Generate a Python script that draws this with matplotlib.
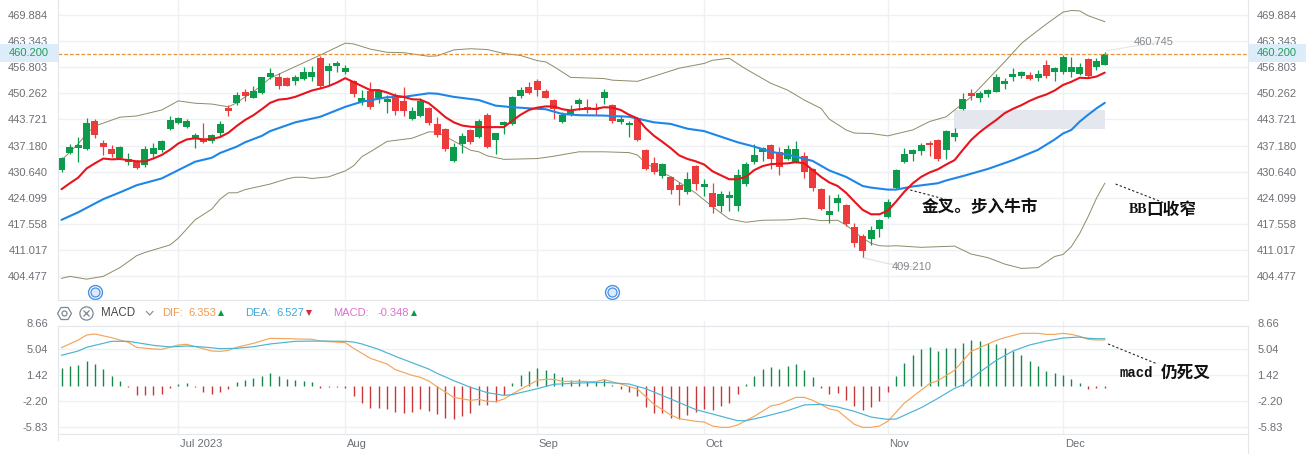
import matplotlib
matplotlib.use("Agg")
import matplotlib.pyplot as plt
from matplotlib.lines import Line2D
from matplotlib.patches import Rectangle, Circle
from matplotlib.transforms import blended_transform_factory

plt.rcParams['font.family'] = ['Liberation Sans', 'DejaVu Sans']

# ---------- data ----------
opens = [431.0,435.3,436.6,436.3,443.3,437.8,436.2,434.1,433.0,433.0,432.3,435.1,436.1,441.3,442.8,441.8,438.9,438.7,438.2,440.3,
         446.5,447.9,450.6,449.1,450.4,454.3,454.3,454.1,453.4,453.9,454.4,459.2,456.0,457.2,455.7,453.3,448.1,451.0,449.0,448.2,
         449.7,448.3,443.9,444.6,446.6,442.6,441.3,433.3,437.6,441.2,439.3,444.8,438.6,442.3,442.6,449.6,451.8,453.4,450.8,448.6,
         443.1,444.9,447.6,446.9,446.7,449.1,447.4,443.2,442.3,444.2,436.1,432.7,429.4,429.2,427.2,425.5,432.0,426.8,425.2,422.0,
         424.0,422.0,427.5,433.0,435.6,437.3,435.5,433.7,432.9,434.5,431.4,426.3,419.7,422.8,422.2,416.6,414.4,413.7,416.3,419.1,
         426.4,433.0,435.1,435.8,437.8,438.6,436.1,439.3,446.4,450.4,449.1,450.1,450.6,452.6,454.4,454.6,454.8,454.2,457.3,455.7,
         455.7,455.7,455.2,458.9,456.9,457.5]
highs = [434.2,437.5,439.3,444.1,443.8,438.6,437.3,437.0,435.2,433.5,437.0,437.7,438.5,444.5,444.3,443.9,440.2,442.8,440.0,443.3,
         447.3,450.5,451.5,452.1,454.5,456.6,455.3,454.3,454.8,456.8,457.2,459.7,457.8,458.4,457.3,453.6,451.1,453.1,451.1,449.9,
         450.3,451.8,446.8,449.0,446.9,444.3,441.5,437.7,440.2,441.4,443.8,445.3,440.4,443.4,449.5,451.8,453.1,453.8,451.3,448.8,
         445.7,447.4,449.0,448.9,447.8,451.4,447.5,444.9,443.3,444.4,436.2,434.2,432.7,429.4,428.0,430.4,432.2,428.8,427.8,425.7,
         425.7,431.2,433.0,437.5,436.9,437.5,436.7,437.3,438.3,435.6,431.6,426.4,424.7,424.9,422.4,417.6,414.9,417.0,418.8,423.7,
         431.2,436.5,436.3,437.7,438.3,438.7,441.1,441.5,450.3,451.5,450.8,451.5,455.2,454.2,456.6,455.9,455.6,456.1,458.6,457.0,
         459.8,459.4,457.8,459.1,459.1,460.745]
lows = [430.4,435.0,433.1,436.1,439.1,434.8,434.4,434.0,432.4,431.4,431.9,434.4,435.5,441.1,442.7,441.7,436.6,437.9,437.7,439.6,
        444.7,447.4,448.4,449.0,450.1,453.8,451.5,452.1,452.5,453.7,453.4,451.7,452.5,455.7,455.2,449.4,447.4,446.4,447.9,445.4,
        444.9,444.6,443.5,444.4,442.3,439.4,435.9,433.0,435.4,437.6,439.1,436.6,435.0,440.1,442.4,449.0,450.2,449.7,449.0,443.8,
        442.8,444.7,446.2,445.3,444.9,447.6,442.9,442.6,439.4,438.4,431.1,430.0,428.9,425.0,422.2,425.1,426.0,424.5,420.3,420.5,
        420.8,420.8,427.1,432.5,433.2,431.2,429.8,433.5,432.7,429.1,425.8,421.1,417.8,420.6,417.0,411.7,409.21,412.3,414.3,419.0,
        426.2,432.9,433.4,434.8,434.5,433.3,433.8,438.4,446.2,448.6,448.2,449.4,450.5,451.4,453.4,454.1,453.7,453.5,454.2,453.4,
        455.2,454.4,454.8,454.2,456.2,457.3]
closes = [434.0,436.7,437.3,442.8,439.7,436.8,435.1,436.8,433.7,431.6,436.3,436.5,438.3,443.6,444.1,443.3,439.7,438.1,439.7,442.6,
          445.9,449.8,449.5,451.0,454.3,455.4,452.1,452.1,454.3,455.6,455.6,452.2,457.1,457.9,456.7,450.1,449.1,446.9,450.8,448.9,
          445.9,445.9,445.8,448.3,442.9,439.8,436.4,436.8,439.6,438.0,443.3,436.8,440.2,443.2,449.4,451.1,450.4,451.1,449.2,446.4,
          444.9,445.9,448.6,446.0,446.0,450.5,443.4,443.8,442.8,438.6,431.3,430.6,432.5,426.1,426.1,428.7,427.5,427.5,421.8,425.0,
          424.8,429.7,432.5,434.8,436.6,433.9,431.7,436.3,436.3,430.4,426.5,421.2,420.7,424.0,417.5,412.8,410.8,415.9,418.5,423.0,
          431.0,435.1,436.1,437.3,437.2,433.7,440.8,440.2,448.8,449.5,450.4,451.1,454.3,453.3,455.2,455.6,454.0,455.2,454.6,456.7,
          459.4,456.8,456.8,454.6,458.3,460.2]

ma_fast = [426.2,427.7,429.1,431.4,432.7,433.9,433.7,433.8,433.5,433.2,433.2,433.9,434.8,436.1,437.7,438.7,439.0,438.7,438.8,439.3,
           440.4,442.1,443.6,444.8,446.3,447.9,448.7,448.9,449.4,450.2,451.0,451.5,452.1,453.0,454.1,453.1,452.1,451.1,451.1,450.5,
           449.7,449.4,448.8,448.7,447.8,446.1,444.3,443.0,442.2,441.9,441.8,441.8,441.8,441.8,443.4,444.9,446.1,446.7,447.0,447.0,
           446.3,446.0,446.3,446.4,446.4,446.8,446.7,446.1,444.9,444.0,441.5,439.6,438.1,436.5,434.7,433.8,433.2,432.4,430.7,429.7,
           428.7,428.7,429.3,431.0,432.0,432.5,432.6,432.7,433.0,432.7,431.0,429.3,427.9,427.0,425.3,423.1,421.0,419.9,419.9,420.8,
           423.1,425.6,427.7,429.3,430.4,431.2,432.4,433.5,436.1,438.6,440.5,442.1,443.6,445.3,446.4,447.3,448.4,449.3,450.0,451.0,
           452.4,453.2,454.2,454.1,454.5,455.5]

ma_slow_idx = [0,2,4,5,7,9,12,14,16,18,19,21,22,24,25,28,31,34,36,39,41,44,45,47,50,52,54,57,58,60,62,65,68,71,73,75,77,79,81,83,
               85,87,90,92,94,96,97,99,100,102,105,106,108,111,114,117,119,120,121,122,123,124,125]
ma_slow = [418.5,420.4,422.6,423.7,425.4,427.2,428.9,431.0,433.1,434.1,435.3,436.9,438.0,439.6,440.8,443.0,444.4,446.9,448.2,449.3,
           449.4,450.3,450.2,449.4,448.6,447.2,446.8,446.4,446.3,445.1,444.8,444.7,444.4,443.0,442.6,441.4,440.8,439.4,438.0,436.9,
           435.6,434.9,433.3,430.9,429.3,427.0,426.6,426.1,426.1,426.9,427.7,428.4,429.5,431.3,433.5,436.1,438.7,440.2,441.1,443.2,
           444.9,446.5,447.9]

bb_up_idx = [0,1,2,3,4,5,7,9,12,14,16,18,20,21,22,23,25,28,31,34,35,37,39,41,44,45,47,49,51,53,55,57,58,59,61,65,66,69,71,74,77,78,
             80,82,85,87,89,91,92,94,95,97,99,102,104,106,107,109,111,113,115,116,118,120,121,122,123,125]
bb_up = [433.5,435.5,437.6,440.1,442.1,442.8,444.3,444.6,446.1,448.4,447.8,447.6,446.9,447.9,449.4,450.7,454.1,457.0,459.9,462.9,
         462.7,461.4,460.6,460.5,459.6,459.7,461.2,461.5,461.3,460.3,459.8,458.5,458.2,457.0,454.3,454.0,453.6,453.3,454.6,456.6,457.8,458.6,
         459.1,456.4,452.8,451.1,448.6,446.5,443.8,441.1,440.3,440.2,439.6,441.1,443.2,444.4,446.1,449.4,453.8,458.2,462.8,464.5,467.7,470.7,471.1,471.0,469.8,468.3]

bb_lo_idx = [0,1,3,5,7,9,10,13,14,16,18,19,20,21,22,25,27,28,29,30,32,34,35,36,37,39,42,43,44,45,49,50,51,53,57,59,62,65,68,69,70,73,76,78,
             80,82,84,87,89,91,93,94,96,97,98,99,100,103,107,109,111,113,115,117,119,120,121,122,123,124,125]
bb_lo = [403.8,404.3,403.6,404.3,406.5,409.5,410.3,412.2,413.9,418.5,421.2,423.7,425.3,425.3,426.1,427.5,428.8,429.2,429.2,428.9,429.3,430.8,432.1,434.4,435.6,438.2,439.0,439.8,440.6,440.6,
         436.0,435.6,434.6,433.7,433.9,434.5,435.6,435.6,435.4,434.8,432.7,429.3,425.2,421.8,418.7,417.9,418.4,418.5,418.9,418.3,418.4,417.2,413.9,412.6,412.0,411.9,412.0,411.6,411.9,409.9,409.0,407.4,406.3,406.5,409.3,409.8,411.8,415.1,419.3,423.9,427.7]

macd_hist = [2.46,2.74,2.88,3.39,3.02,2.28,1.35,0.65,-0.23,-1.30,-1.30,-1.30,-1.16,-0.28,0.23,0.37,-0.23,-0.84,-1.16,-0.88,
             -0.51,0.46,0.79,1.02,1.39,1.77,1.35,0.93,0.74,0.65,0.51,-0.28,-0.19,-0.19,-0.33,-1.44,-2.42,-3.11,-3.11,-3.25,
             -3.67,-3.81,-3.67,-3.25,-3.53,-3.95,-4.46,-4.60,-4.23,-3.81,-2.69,-2.69,-2.23,-1.30,0.37,1.44,2.00,2.42,2.23,1.72,
             1.16,0.74,0.88,0.60,0.51,0.93,0.05,-0.46,-0.88,-1.53,-2.97,-3.81,-3.81,-4.46,-4.65,-4.09,-3.67,-3.30,-3.39,-2.83,
             -2.46,-1.21,0.23,1.35,2.28,2.60,2.28,2.74,2.97,2.18,1.16,-0.28,-1.16,-1.11,-2.00,-2.83,-3.48,-2.97,-2.18,-0.84,
             1.35,3.11,4.23,5.06,5.34,4.78,5.20,5.20,5.90,6.32,6.18,5.90,5.76,5.20,4.78,4.23,3.39,2.69,2.00,1.72,
             1.49,0.88,0.33,-0.51,-0.40,-0.348]

dif_idx = [0,2,3,4,6,8,9,11,12,14,15,18,19,20,21,23,25,27,30,31,34,35,37,39,40,42,43,44,45,47,49,50,51,52,53,55,57,58,59,60,62,64,65,67,69,71,73,74,76,77,
           78,79,80,81,83,85,86,88,89,90,92,93,95,96,97,98,99,101,104,105,107,109,112,113,115,117,118,119,120,121,122,123,124,125]
dif = [5.28,6.34,7.04,7.18,6.67,6.02,5.32,5.09,5.04,5.65,5.74,4.81,4.76,4.90,5.32,5.88,6.58,6.53,6.44,6.20,5.97,5.18,3.79,3.00,2.21,1.42,1.14,0.63,-0.16,
       -1.65,-2.06,-1.93,-2.20,-2.25,-1.88,-0.53,0.72,0.86,0.86,0.58,0.58,0.54,0.82,0.21,-0.48,-2.62,-4.11,-4.62,-4.99,-5.08,
       -5.64,-5.83,-5.83,-5.50,-4.29,-2.85,-2.62,-1.65,-1.65,-2.06,-3.27,-3.50,-5.41,-5.83,-5.83,-5.64,-4.99,-2.44,0.26,0.68,2.12,4.76,6.30,6.67,7.27,7.27,7.13,7.13,7.27,7.13,6.85,6.44,6.34,6.353]

dea_idx = [0,2,3,5,6,8,10,11,13,15,17,19,21,23,25,28,31,34,35,36,38,40,42,44,45,47,49,51,53,54,57,59,62,65,68,70,73,76,78,81,82,84,87,89,91,93,95,97,98,99,100,
           103,105,107,108,110,112,114,116,118,120,122,123,124,125]
dea = [4.21,4.81,5.32,5.88,6.16,6.16,5.79,5.60,5.37,5.51,5.37,5.14,5.18,5.41,5.79,6.16,6.20,6.16,6.06,5.79,5.04,4.07,3.18,2.30,1.70,0.68,-0.25,-0.99,-1.37,-1.27,-0.44,0.17,0.35,0.44,0.21,-0.44,-1.88,-3.36,-3.97,-4.90,-4.90,-4.39,-3.50,-2.71,-2.62,-2.99,-3.60,-4.39,-4.57,-4.71,-4.67,
       -3.09,-1.79,-0.39,0.07,1.84,3.51,4.81,5.65,6.20,6.62,6.76,6.58,6.53,6.527]

price_ticks = [404.477,411.017,417.558,424.099,430.640,437.180,443.721,450.262,456.803,463.343,469.884]
macd_ticks = [-5.83,-2.20,1.42,5.04,8.66]
month_idx = [14,34,57,77,99,120]
month_labels = ['Jul 2023','Aug','Sep','Oct','Nov','Dec']
last_price = 460.2
dif_last, dea_last, macd_last = '6.353', '6.527', '-0.348'

# ---------- layout (pixels of a 1306x454 canvas) ----------
W, H = 1306, 454
def fx(x): return x / W
def fy(y): return 1 - y / H
L, R = 57.5, 1247.5
GREEN, RED = '#0b9b4a', '#ec3b3b'
GRID = '#eef0f4'
BORDER = '#e3e6ea'
TXT = '#6c6f75'

fig = plt.figure(figsize=(W / 100, H / 100), dpi=100, facecolor='white')
ax = fig.add_axes([fx(L), fy(299.5), fx(R - L), 299.5 / H])
ax2 = fig.add_axes([fx(L), fy(434.3), fx(R - L), (434.3 - 321) / H])

xlim = (-0.48, 142.1)
for a in (ax, ax2):
    a.set_xlim(*xlim)
    a.set_axisbelow(True)
    for s in a.spines.values():
        s.set_visible(False)
    a.set_xticks(month_idx)
    a.set_xticklabels([])
    a.tick_params(axis='x', length=0)
    a.tick_params(axis='y', length=0, labelleft=True, labelright=True, labelsize=8, labelcolor=TXT, pad=7)
    a.grid(True, color=GRID, lw=1)

ax.set_ylim(473.74 - 299.5 / 3.98, 473.74)
ax.set_yticks(price_ticks)
ax.set_yticklabels([f'{v:.3f}' for v in price_ticks])
ax2.set_ylim(12.614 - 0.13935 * (434.3 - 295), 12.614 - 0.13935 * 26)
ax2.set_yticks(macd_ticks)
ax2.set_yticklabels([f'{v:.2f}' for v in macd_ticks])
ax2.yaxis.get_gridlines()[-1].set_visible(False)

# main panel
xs = list(range(len(closes)))
colors = [GREEN if c >= o else RED for o, c in zip(opens, closes)]
ax.plot(bb_up_idx, bb_up, color='#8d8b68', lw=0.7, zorder=2)
ax.plot(bb_lo_idx, bb_lo, color='#8d8b68', lw=0.7, zorder=2)
ax.add_patch(Rectangle((106.9, 441.3), 125 - 106.9, 446.1 - 441.3, color='#e4e8ee', lw=0, zorder=1.5))
ax.vlines(xs, lows, highs, colors=colors, lw=0.9, zorder=3)
ax.bar(xs, [abs(c - o) for o, c in zip(opens, closes)], bottom=[min(o, c) for o, c in zip(opens, closes)],
       width=0.84, color=colors, lw=0, zorder=3.2)
ax.plot(ma_slow_idx, ma_slow, color='#1e86e8', lw=1.5, zorder=4, solid_capstyle='round')
ax.plot(xs, ma_fast, color='#e8141c', lw=1.5, zorder=4.2, solid_capstyle='round')
ax.axhline(last_price, color='#e8923c', lw=0.9, dashes=(3, 1.6), zorder=4.5)

# high / low leaders
ax.plot([125.3, 128, 131.4], [461.0, 462.0, 463.0], color='#e6e6e6', lw=0.8, zorder=2.5)
ax.text(128.5, 463.3, '460.745', color='#85888e', fontsize=8, va='center', ha='left')
ax.plot([96, 99, 102.3], [409.0, 407.5, 406.6], color='#e0e0e0', lw=0.8, zorder=2.5)
ax.text(99.5, 406.7, '409.210', color='#85888e', fontsize=8, va='center', ha='left')

# event markers
for i in (4, 66):
    ax.plot([i], [400.4], 'o', ms=10, mfc='none', mec='#4a90e2', mew=1.0, clip_on=False, zorder=5)
    ax.plot([i], [400.4], 'o', ms=6.5, mfc='#dbe9fb', mec='#4a90e2', mew=0.9, clip_on=False, zorder=5)

# hand-written notes
cjk = ['Noto Sans CJK SC', 'DejaVu Sans']
ax.plot([101.7, 106.2], [426.0, 423.5], color='#222', lw=0.8, ls=(0, (2, 2)), zorder=6)
ax.text(103.0, 421.6, '金叉。步入牛市', family=cjk, weight='bold', fontsize=12, color='#111', va='center', ha='left', zorder=6)
ax.plot([126.3, 132.2], [427.5, 422.7], color='#222', lw=0.8, ls=(0, (2, 2)), zorder=6)
ax.text(127.9, 421.0, 'BB', family='Liberation Serif', weight='bold', fontsize=10, color='#111', va='center', ha='left', zorder=6)
ax.text(129.95, 421.0, '口收窄', family=cjk, weight='bold', fontsize=12, color='#111', va='center', ha='left', zorder=6)

# price label boxes (they cover the tick label behind them)
for x0, x1, tx, ha in ((0, L, 8.5, 'left'), (R, W, 1256.5, 'left')):
    ax.add_patch(Rectangle((fx(x0), fy(62)), fx(x1 - x0), 18 / H, transform=fig.transFigure,
                           color='#dcedf9', lw=0, clip_on=False, zorder=10))
    ax.text(fx(tx), fy(53), f'{last_price:.3f}', transform=fig.transFigure, color='#1f9d5c',
            fontsize=8, va='center', ha=ha, clip_on=False, zorder=11)

# MACD panel
hc = ['#14874a' if v >= 0 else '#c8383a' for v in macd_hist]
ax2.vlines(xs, 0, macd_hist, colors=hc, lw=1.0, zorder=2)
ax2.plot(dif_idx, dif, color='#f2a65a', lw=0.85, zorder=3)
ax2.plot(dea_idx, dea, color='#4bb3d4', lw=0.85, zorder=3.2)
ax2.plot([125.4, 131.3], [5.79, 3.0], color='#222', lw=0.8, ls=(0, (2, 2)), zorder=6)
ax2.text(126.8, 1.75, 'macd', family='Liberation Mono', weight='bold', fontsize=10, color='#111', va='center', ha='left')
ax2.text(131.7, 1.75, '仍死叉', family=cjk, weight='bold', fontsize=12, color='#111', va='center', ha='left')

# month labels
tr = blended_transform_factory(ax2.transData, fig.transFigure)
for i, lab in zip(month_idx, month_labels):
    ax2.annotate(lab, xy=(i, fy(444)), xycoords=tr, xytext=(1.2, 0), textcoords='offset points',
                 fontsize=8, color=TXT, va='center', ha='left', annotation_clip=False)

# frame lines
def hline(y, x0=L, x1=R, c=BORDER, lw=0.8):
    fig.add_artist(Line2D([fx(x0), fx(x1)], [fy(y), fy(y)], color=c, lw=lw))
def vline(x, y0, y1, c=BORDER, lw=0.8):
    fig.add_artist(Line2D([fx(x), fx(x)], [fy(y0), fy(y1)], color=c, lw=lw))
for y in (300, 325.7, 434.3, 453.5):
    hline(y)
vline(L, 0, 300); vline(R, 0, 300)
vline(L, 325.7, 440); vline(R, 325.7, 453.5)

# MACD header row
hy = 313.3
fig.add_artist(Line2D([fx(64)], [fy(hy)], marker='H', ms=10, mfc='none', mec='#7d8894', mew=0.9))
fig.add_artist(Line2D([fx(64)], [fy(hy)], marker='o', ms=3.6, mfc='none', mec='#7d8894', mew=0.9))
fig.add_artist(Line2D([fx(86.3)], [fy(hy)], marker='o', ms=9.5, mfc='none', mec='#7d8894', mew=0.9))
fig.add_artist(Line2D([fx(86.3)], [fy(hy)], marker='x', ms=4, mec='#7d8894', mew=0.9))
fig.add_artist(Line2D([fx(146.5), fx(149.7), fx(152.9)], [fy(311.5), fy(315), fy(311.5)], color='#7d8894', lw=0.8))
fig.text(fx(101), fy(hy), 'MACD', color='#43474d', fontsize=8.3, va='center', ha='left')
for x, s, c in ((162, 'DIF:', '#ee9b52'), (188, dif_last, '#ee9b52'),
                (245, 'DEA:', '#3ea7d8'), (276.5, dea_last, '#3ea7d8'),
                (333, 'MACD:', '#dd70d0'), (377, macd_last, '#dd70d0')):
    fig.text(fx(x), fy(hy), s, color=c, fontsize=8, va='center', ha='left')
for x, m, c in ((221, '^', '#0b9b4a'), (309, 'v', '#d62c3c'), (414, '^', '#0b9b4a')):
    fig.add_artist(Line2D([fx(x)], [fy(hy)], marker=m, ms=3.8, mfc=c, mec=c, mew=0))

fig.savefig('out.png', dpi=100, facecolor='white')
